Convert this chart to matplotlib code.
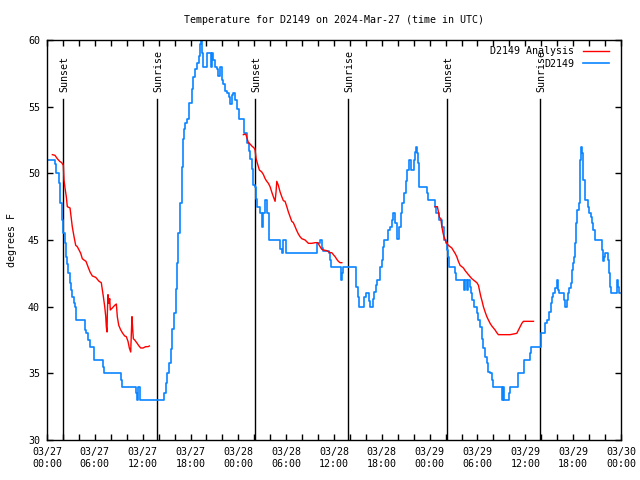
import matplotlib
matplotlib.use("Agg")
import matplotlib.pyplot as plt
from matplotlib.ticker import MultipleLocator

plt.rcParams['font.family'] = ['DejaVu Sans Mono']

# hours since 03/27 00:00 UTC
obs_hours = [0.0, 1.00, 1.17, 1.51, 1.67, 1.84, 2.01, 2.22, 2.35, 2.51, 2.67, 2.85, 3.01, 3.17, 3.35, 3.51,
             3.68, 4.73, 4.89, 5.11, 5.36, 5.93, 6.99, 7.15, 9.25, 9.45, 11.17, 11.29, 11.46, 11.71,
             14.68, 14.89, 15.10, 15.31, 15.52, 15.72, 15.94, 16.15, 16.27, 16.48, 16.69, 16.90, 17.10,
             17.23, 17.36, 17.53, 17.86, 18.19, 18.36, 18.61, 18.78, 19.04, 19.20, 19.33, 19.49, 19.62,
             20.04, 20.58, 20.71, 20.87, 21.08, 21.29, 21.50, 21.71, 21.92, 22.12, 22.34, 22.63, 22.84,
             22.97, 23.18, 23.38, 23.59, 23.81, 24.05, 24.76, 25.06, 25.31, 25.47, 25.69, 25.82, 26.10,
             26.23, 26.39, 26.73, 27.02, 27.15, 27.36, 27.57, 27.65, 27.90, 29.24, 29.45, 29.65, 29.87,
             29.99, 33.92, 34.26, 34.47, 34.67, 35.39, 35.51, 35.67, 36.86, 37.02, 37.18, 38.73, 39.07,
             39.19, 39.82, 40.00, 40.41, 40.54, 40.87, 41.08, 41.29, 41.45, 41.71, 41.83, 42.01, 42.13,
             42.25, 42.83, 43.04, 43.25, 43.46, 43.67, 43.96, 44.17, 44.38, 44.58, 44.79, 45.01, 45.21,
             45.42, 45.67, 46.05, 46.17, 46.26, 46.43, 46.55, 46.68, 47.65, 47.77, 48.69, 48.78, 49.20,
             49.53, 49.74, 49.86, 50.04, 50.19, 50.28, 50.45, 51.20, 51.29, 52.33, 52.45, 52.66, 52.82,
             53.00, 53.17, 53.33, 53.50, 53.92, 54.05, 54.34, 54.55, 54.75, 54.96, 55.17, 55.37, 55.58,
             55.80, 56.00, 57.05, 57.17, 57.34, 58.00, 58.09, 59.06, 59.85, 60.61, 60.69, 61.94, 62.48,
             62.77, 63.02, 63.20, 63.36, 63.53, 63.74, 63.95, 64.15, 64.28, 64.87, 65.03, 65.21, 65.37,
             65.53, 65.71, 65.87, 66.04, 66.16, 66.29, 66.41, 66.54, 66.71, 66.83, 66.91, 67.00, 67.13,
             67.21, 67.29, 67.46, 67.54, 67.92, 68.04, 68.26, 68.38, 68.55, 68.72, 69.60, 69.72, 69.89,
             70.05, 70.42, 70.55, 70.64, 70.76, 71.49, 71.56, 71.64, 71.73, 71.90]
obs_temps = [51, 50.7, 50, 49.3, 47.8, 46.5, 45.5, 44.8, 43.75, 43.2, 42.5, 41.75, 41.25, 40.75, 40.25, 40,
             39, 38.25, 38, 37.5, 37, 36, 35.5, 35, 34.5, 34, 33.5, 33, 34, 33,
             33.5, 34.3, 35, 35.8, 36.8, 38.3, 39.5, 41.3, 43.3, 45.5, 47.8, 50.5, 52.6,
             53.3, 53.8, 54.1, 55.3, 56.3, 57.2, 57.8, 58.3, 58.8, 59.7, 60, 59, 58,
             59, 58, 59, 58.5, 58, 57.8, 57.3, 58, 57, 56.7, 56.2, 56, 55.7,
             55.2, 55.9, 56, 55.5, 54.8, 54.1, 53, 52.3, 51.7, 51.1, 50.3, 49.1, 49,
             48.1, 47.5, 47, 46, 47, 48, 47.5, 47, 45, 44.3, 44, 45, 45,
             44, 44.8, 45, 44.4, 44.2, 44, 43.5, 43, 42, 42.5, 43, 41.5, 40.75,
             40, 40.75, 41, 40.4, 40, 40.6, 41.1, 41.6, 42, 42.25, 43, 43.5, 44.5,
             45, 45.75, 46, 46.5, 47, 46.25, 45.1, 46, 47, 47.8, 48.5, 49.4, 50.25,
             51, 50.25, 51, 51.6, 52, 51.5, 50.75, 49, 48.5, 48, 47.5, 47, 46.5,
             46, 45.4, 45, 44.75, 44.25, 43.75, 43, 42.5, 42, 41.25, 42, 41.25, 42,
             41.5, 41, 40.5, 40, 39.5, 39, 38.5, 37.6, 36.9, 36.25, 35.75, 35.1, 35,
             34.5, 34, 33, 34, 33, 33.5, 34, 35, 36, 36.5, 37, 38, 38.75,
             39, 39.6, 40.25, 40.75, 41, 41.4, 42, 41.25, 41, 40.5, 40, 40.5, 41,
             41.4, 41.75, 42.75, 43.25, 43.75, 44.75, 46.25, 47.25, 47.75, 49, 51, 52, 51.5,
             51, 49.5, 48.5, 48, 47.5, 47, 46.75, 46.25, 45.75, 45, 44.25, 43.4, 43.75,
             44, 43.5, 42.5, 41.5, 41, 41.6, 42, 41.5, 41, 41]

an1_hours = [0.67, 1.00, 1.29, 1.59, 1.84, 2.05, 2.13, 2.26, 2.42, 2.55, 2.89, 3.05, 3.17, 3.39, 3.60, 3.80,
             4.02, 4.23, 4.43, 4.64, 4.89, 5.14, 5.40, 5.69, 6.11, 6.53, 6.81, 7.07, 7.24, 7.37, 7.44,
             7.53, 7.57, 7.65, 7.74, 7.87, 7.94, 8.19, 8.49, 8.70, 8.82, 9.00, 9.25, 9.50, 9.75, 9.95,
             10.16, 10.33, 10.50, 10.58, 10.66, 10.75, 10.83, 11.00, 11.25, 11.54, 11.76, 12.05, 12.38,
             12.67, 12.84]
an1_temps = [51.4, 51.35, 51.1, 50.9, 50.8, 50.6, 49.5, 48.9, 48.25, 47.5, 47.4, 46.6, 46, 45.25, 44.6, 44.5,
             44.25, 44, 43.6, 43.5, 43.4, 43, 42.6, 42.3, 42.2, 41.9, 41.8, 40.75, 40, 39.25, 38.5,
             38.1, 39.5, 40.9, 40.25, 40.6, 39.75, 39.9, 40.1, 40.2, 39.25, 38.6, 38.25, 38, 37.8, 37.75,
             37.4, 36.9, 36.6, 38, 39.25, 38.3, 37.6, 37.5, 37.3, 37.05, 36.9, 36.9, 37,
             37, 37.05]

an2_hours = [24.63, 24.93, 25.06, 25.26, 25.47, 25.69, 25.98, 26.10, 26.23, 26.39, 26.64, 26.94, 27.15,
             27.36, 27.57, 27.77, 27.98, 28.19, 28.39, 28.61, 28.73, 28.82, 29.02, 29.24, 29.45, 29.65,
             29.86, 30.08, 30.28, 30.49, 30.70, 30.90, 31.12, 31.33, 31.53, 31.74, 31.96, 32.37, 32.79,
             33.21, 33.63, 33.96, 34.25, 34.47, 34.67, 35.09, 35.51, 35.72, 35.92, 36.14, 36.35, 36.55,
             36.76, 36.98]
an2_temps = [52.9, 52.95, 52.7, 52.3, 52.2, 52.05, 51.9, 51.75, 51.1, 50.75, 50.25, 50.1, 49.9,
             49.6, 49.4, 49.25, 49, 48.6, 48.25, 47.9, 48.6, 49.4, 49.1, 48.6, 48.25, 47.95,
             47.9, 47.5, 47.1, 46.75, 46.4, 46.3, 46, 45.7, 45.45, 45.25, 45.1, 45, 44.75,
             44.75, 44.8, 44.8, 44.5, 44.3, 44.25, 44.2, 44.05, 44.05, 43.9, 43.75, 43.55, 43.4,
             43.3, 43.3]

an3_hours = [48.68, 48.97, 49.10, 49.22, 49.40, 49.53, 49.65, 49.77, 49.94, 50.15, 50.35, 50.56, 50.78,
             50.98, 51.19, 51.40, 51.60, 51.82, 52.03, 52.24, 52.45, 52.66, 52.86, 53.07, 53.29, 53.49,
             53.92, 54.12, 54.24, 54.42, 54.58, 54.74, 54.96, 55.17, 55.37, 55.58, 55.80, 56.00, 56.21,
             56.42, 56.62, 58.09, 58.51, 58.93, 59.14, 59.35, 59.56, 59.76, 61.02]
an3_temps = [47.5, 47.5, 47.1, 46.7, 46.6, 46, 45.6, 45.3, 45, 44.75, 44.6, 44.5, 44.4,
             44.2, 44, 43.75, 43.4, 43.1, 43, 42.9, 42.7, 42.55, 42.4, 42.25, 42.1, 42,
             41.8, 41.6, 41.25, 40.75, 40.4, 40, 39.6, 39.25, 39, 38.75, 38.55, 38.4, 38.25,
             38.05, 37.9, 37.9, 37.95, 38, 38.25, 38.5, 38.75, 38.9, 38.9]

sun_hours = [2.05, 13.84, 26.10, 37.80, 50.23, 61.90]
sun_labels = ["Sunset", "Sunrise", "Sunset", "Sunrise", "Sunset", "Sunrise"]

xtick_hours = [0, 6, 12, 18, 24, 30, 36, 42, 48, 54, 60, 66, 72]
xtick_labels = ["03/27\n00:00", "03/27\n06:00", "03/27\n12:00", "03/27\n18:00",
                "03/28\n00:00", "03/28\n06:00", "03/28\n12:00", "03/28\n18:00",
                "03/29\n00:00", "03/29\n06:00", "03/29\n12:00", "03/29\n18:00",
                "03/30\n00:00"]
yticks = [30, 35, 40, 45, 50, 55, 60]

FS = 7.2
fig = plt.figure(figsize=(6.4, 4.8), dpi=100)
ax = fig.add_axes([47/640, 40/480, 574/640, 400/480])

red = "#ff0000"
blue = "#0a84ff"

for i, (h, lab) in enumerate(zip(sun_hours, sun_labels)):
    ax.plot([h, h], [30, 55.57], color="black", lw=1.0, zorder=1)
    ax.text(h + 0.15, 56.1, lab, rotation=90, ha="center", va="bottom", fontsize=FS, zorder=1)

l1, = ax.plot(an1_hours, an1_temps, color=red, lw=1.0, label="D2149 Analysis", zorder=3)
ax.plot(an2_hours, an2_temps, color=red, lw=1.0, zorder=3)
ax.plot(an3_hours, an3_temps, color=red, lw=1.0, zorder=3)
l2, = ax.plot(obs_hours, obs_temps, color=blue, lw=1.2, drawstyle="steps-post", label="D2149", zorder=2)

ax.set_xlim(0, 72)
ax.set_ylim(30, 60)
ax.set_xticks(xtick_hours)
ax.set_xticklabels(xtick_labels)
ax.xaxis.set_minor_locator(MultipleLocator(2))
ax.set_yticks(yticks)
ax.tick_params(which="both", direction="in", top=True, right=True, length=4, width=1,
               labelsize=FS, pad=5)
for s in ax.spines.values():
    s.set_linewidth(1.0)

ax.set_ylabel("degrees F", fontsize=FS, labelpad=8)
fig.text(0.5 * (47 + 621) / 640, 1 - 20 / 480, "Temperature for D2149 on 2024-Mar-27 (time in UTC)",
         ha="center", va="center", fontsize=FS)

leg = ax.legend(handles=[l1, l2], loc="upper right", frameon=False, markerfirst=False,
                fontsize=FS, handlelength=2.6, handletextpad=0.85, labelspacing=0.25,
                borderaxespad=0.3, borderpad=0.2, bbox_to_anchor=(1 - 7/574, 1 - 1.5/400))
leg.set_zorder(5)

fig.savefig("out.png", dpi=100)
